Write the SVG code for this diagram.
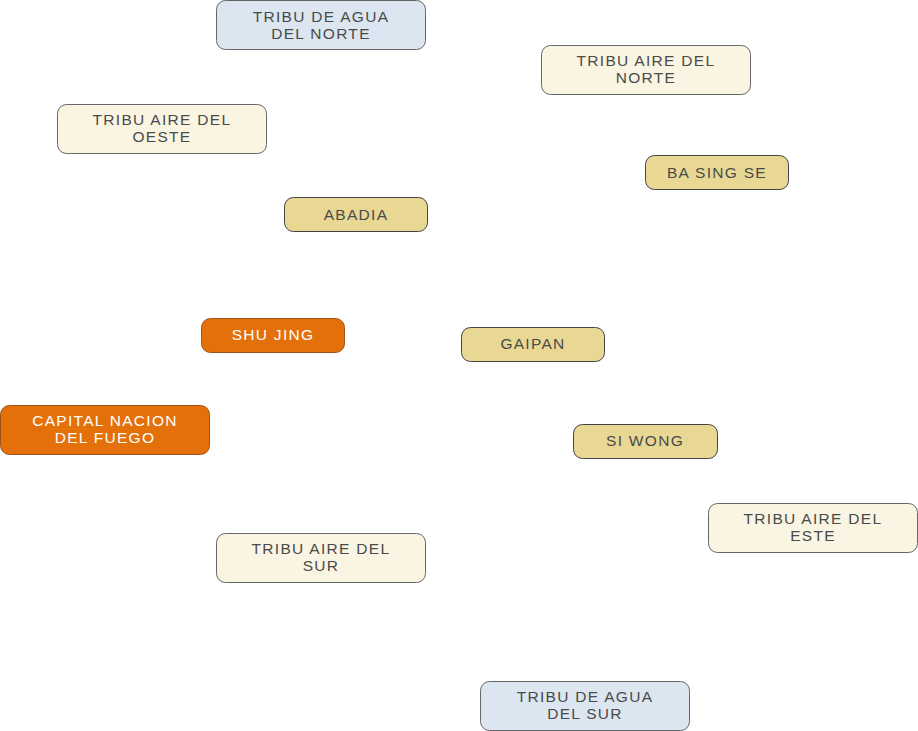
<svg xmlns="http://www.w3.org/2000/svg" width="918" height="731" viewBox="0 0 918 731">
<style>
.n rect{stroke:#666;stroke-width:1}
.blue rect{fill:#dce6f0}
.cream rect{fill:#f9f5e2}
.gold rect{fill:#e9d894;stroke:#444}
.orange rect{fill:#e4700a;stroke:#a0521a}
.n text{font-family:"Liberation Sans",Arial,sans-serif;font-size:15.5px;fill:#4a4a4a;text-anchor:middle;letter-spacing:1.3px}
.orange text{fill:#ffffff}
</style>
<rect width="918" height="731" fill="#ffffff"/>
<g id="connectors"></g>
<g id="tribu-agua-norte" class="n blue"><rect x="216.5" y="0.5" width="209" height="49" rx="9"/><text x="321" y="22">TRIBU DE AGUA</text><text x="321" y="39">DEL NORTE</text></g>
<g id="tribu-aire-norte" class="n cream"><rect x="541.5" y="45.5" width="209" height="49" rx="9"/><text x="646" y="66">TRIBU AIRE DEL</text><text x="646" y="83">NORTE</text></g>
<g id="tribu-aire-oeste" class="n cream"><rect x="57.5" y="104.5" width="209" height="49" rx="9"/><text x="162" y="125">TRIBU AIRE DEL</text><text x="162" y="142">OESTE</text></g>
<g id="ba-sing-se" class="n gold"><rect x="645.5" y="155.5" width="143" height="34" rx="9"/><text x="717" y="178">BA SING SE</text></g>
<g id="abadia" class="n gold"><rect x="284.5" y="197.5" width="143" height="34" rx="9"/><text x="356" y="220">ABADIA</text></g>
<g id="shu-jing" class="n orange"><rect x="201.5" y="318.5" width="143" height="34" rx="9"/><text x="273" y="340">SHU JING</text></g>
<g id="gaipan" class="n gold"><rect x="461.5" y="327.5" width="143" height="34" rx="9"/><text x="533" y="349">GAIPAN</text></g>
<g id="capital-nacion-fuego" class="n orange"><rect x="0.5" y="405.5" width="209" height="49" rx="9"/><text x="105" y="426">CAPITAL NACION</text><text x="105" y="443">DEL FUEGO</text></g>
<g id="si-wong" class="n gold"><rect x="573.5" y="424.5" width="144" height="34" rx="9"/><text x="645" y="446">SI WONG</text></g>
<g id="tribu-aire-este" class="n cream"><rect x="708.5" y="503.5" width="209" height="49" rx="9"/><text x="813" y="524">TRIBU AIRE DEL</text><text x="813" y="541">ESTE</text></g>
<g id="tribu-aire-sur" class="n cream"><rect x="216.5" y="533.5" width="209" height="49" rx="9"/><text x="321" y="554">TRIBU AIRE DEL</text><text x="321" y="571">SUR</text></g>
<g id="tribu-agua-sur" class="n blue"><rect x="480.5" y="681.5" width="209" height="49" rx="9"/><text x="585" y="702">TRIBU DE AGUA</text><text x="585" y="719">DEL SUR</text></g>
</svg>
